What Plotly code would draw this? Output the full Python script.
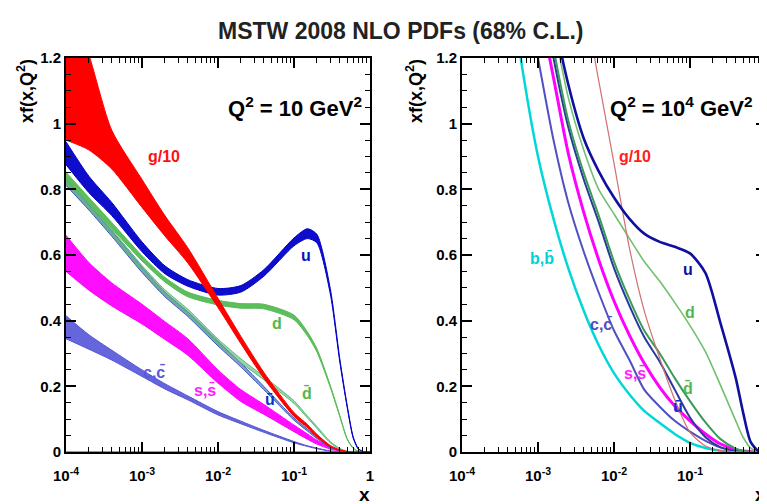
import math
import plotly.graph_objects as go

# ---------------- data ----------------
X_LEFT = [1e-4, 2e-4, 4e-4, 1e-3, 2e-3, 4e-3, 1e-2, 2e-2, 4e-2, 0.1,
          0.15, 0.2, 0.3, 0.4, 0.5, 0.6, 0.7, 0.8, 0.9, 1.0]

# Q^2 = 10 GeV^2 : lower / upper edges of the 68% C.L. bands
g10_lo_L = [0.95, 0.92, 0.862, 0.745, 0.658, 0.576, 0.44, 0.33, 0.225, 0.108,
            0.074, 0.046, 0.016, 0.005, 0.001, 0, 0, 0, 0, 0]
g10_hi_L = [1.40, 1.21, 0.98, 0.83, 0.72, 0.622, 0.468, 0.352, 0.243, 0.12,
            0.084, 0.054, 0.02, 0.007, 0.002, 0, 0, 0, 0, 0]
u_lo_L = [0.875, 0.79, 0.72, 0.61, 0.543, 0.505, 0.478, 0.487, 0.535, 0.628,
          0.65, 0.637, 0.482, 0.275, 0.137, 0.043, 0.009, 0.002, 0, 0]
u_hi_L = [0.945, 0.84, 0.76, 0.64, 0.567, 0.525, 0.498, 0.507, 0.555, 0.652,
          0.68, 0.663, 0.498, 0.285, 0.143, 0.047, 0.011, 0.002, 0, 0]
d_lo_L = [0.828, 0.755, 0.681, 0.582, 0.518, 0.473, 0.448, 0.438, 0.436, 0.403,
          0.354, 0.305, 0.197, 0.108, 0.039, 0.011, 0.002, 0, 0, 0]
d_hi_L = [0.852, 0.775, 0.699, 0.598, 0.532, 0.487, 0.462, 0.452, 0.450, 0.417,
          0.366, 0.315, 0.203, 0.112, 0.041, 0.013, 0.002, 0, 0, 0]
ubar_lo_L = [0.812, 0.737, 0.657, 0.547, 0.473, 0.413, 0.323, 0.259, 0.190, 0.097,
             0.064, 0.041, 0.014, 0.004, 0.001, 0, 0, 0, 0, 0]
ubar_hi_L = [0.828, 0.753, 0.673, 0.563, 0.487, 0.427, 0.337, 0.271, 0.200, 0.103,
             0.070, 0.045, 0.016, 0.004, 0.001, 0, 0, 0, 0, 0]
dbar_lo_L = [0.817, 0.742, 0.662, 0.552, 0.480, 0.421, 0.330, 0.272, 0.220, 0.148,
             0.104, 0.072, 0.028, 0.009, 0.002, 0, 0, 0, 0, 0]
dbar_hi_L = [0.833, 0.758, 0.678, 0.568, 0.494, 0.435, 0.344, 0.284, 0.230, 0.156,
             0.110, 0.078, 0.032, 0.011, 0.002, 0, 0, 0, 0, 0]
s_lo_L = [0.55, 0.493, 0.445, 0.39, 0.343, 0.295, 0.21, 0.154, 0.115, 0.062,
          0.039, 0.024, 0.009, 0.003, 0.001, 0, 0, 0, 0, 0]
s_hi_L = [0.66, 0.577, 0.515, 0.45, 0.397, 0.345, 0.25, 0.19, 0.145, 0.082,
          0.055, 0.036, 0.015, 0.005, 0.001, 0, 0, 0, 0, 0]
c_lo_L = [0.345, 0.313, 0.28, 0.23, 0.192, 0.159, 0.113, 0.086, 0.060, 0.028,
          0.017, 0.010, 0.003, 0.001, 0, 0, 0, 0, 0, 0]
c_hi_L = [0.415, 0.357, 0.31, 0.25, 0.208, 0.171, 0.123, 0.094, 0.066, 0.032,
          0.019, 0.012, 0.003, 0.001, 0, 0, 0, 0, 0, 0]
b_L = [0] * 20

X_RIGHT = [4e-4, 6.3e-4, 1e-3, 1.6e-3, 2.5e-3, 4e-3, 6.3e-3, 1e-2, 1.6e-2, 2.5e-2,
           4e-2, 6.3e-2, 0.1, 0.16, 0.25, 0.4, 0.5, 0.63, 0.8, 1.0]
# Q^2 = 10^4 GeV^2 : central curves
g10_R = [2.9, 2.5, 2.15, 1.85, 1.6, 1.38, 1.13, 0.88, 0.62, 0.43,
         0.285, 0.16, 0.06, 0.018, 0.004, 0.001, 0, 0, 0, 0]
u_R = [2.4, 1.95, 1.6, 1.33, 1.12, 0.955, 0.855, 0.775, 0.71, 0.665,
       0.64, 0.625, 0.605, 0.545, 0.395, 0.225, 0.12, 0.03, 0.003, 0]
d_R = [2.3, 1.9, 1.55, 1.3, 1.08, 0.92, 0.80, 0.725, 0.65, 0.58,
       0.52, 0.455, 0.385, 0.305, 0.205, 0.095, 0.045, 0.012, 0.001, 0]
ubar_R = [2.15, 1.78, 1.47, 1.2, 0.99, 0.83, 0.70, 0.56, 0.445, 0.35,
          0.275, 0.19, 0.105, 0.045, 0.015, 0.003, 0.001, 0, 0, 0]
dbar_R = [2.2, 1.82, 1.5, 1.23, 1.01, 0.85, 0.72, 0.58, 0.465, 0.37,
          0.30, 0.225, 0.155, 0.09, 0.04, 0.01, 0.003, 0.001, 0, 0]
s_R = [2.0, 1.65, 1.38, 1.14, 0.91, 0.73, 0.585, 0.46, 0.355, 0.27,
       0.197, 0.14, 0.095, 0.055, 0.025, 0.007, 0.003, 0.001, 0, 0]
c_R = [1.75, 1.45, 1.2, 0.95, 0.76, 0.61, 0.485, 0.37, 0.28, 0.19,
       0.138, 0.095, 0.062, 0.034, 0.014, 0.004, 0.001, 0, 0, 0]
b_R = [1.48, 1.16, 0.90, 0.71, 0.56, 0.43, 0.325, 0.24, 0.175, 0.125,
       0.088, 0.055, 0.028, 0.012, 0.004, 0.001, 0, 0, 0, 0]

X_TICKS = [1e-4, 1e-3, 1e-2, 1e-1, 1]
X_TICKTEXT = ["<b>10<sup>-4</sup></b>", "<b>10<sup>-3</sup></b>", "<b>10<sup>-2</sup></b>",
              "<b>10<sup>-1</sup></b>", "<b>1</b>"]

TITLE = "MSTW 2008 NLO PDFs (68% C.L.)"
Q2_LEFT = "Q<sup>2</sup> = 10 GeV<sup>2</sup>"
Q2_RIGHT = "Q<sup>2</sup> = 10<sup>4</sup> GeV<sup>2</sup>"

# curve labels: (text, x, y, color)
LABELS_L = [("g/10", 1.95e-3, 0.90, "#ff1010"), ("u", 0.145, 0.60, "#1010c0"),
            ("d", 0.060, 0.39, "#50b850"), ("ū", 0.048, 0.16, "#1030c8"),
            ("d\u0304", 0.148, 0.18, "#50b850"), ("s,s\u0304", 6.8e-3, 0.19, "#ff20ff"),
            ("c,c\u0304", 1.45e-3, 0.245, "#5a5ad8")]
LABELS_R = [("g/10", 0.019, 0.90, "#ff2020"), ("u", 0.093, 0.555, "#1010a0"),
            ("d", 0.10, 0.425, "#50b850"), ("ū", 0.069, 0.14, "#1030c8"),
            ("d\u0304", 0.093, 0.195, "#50b850"), ("s,s\u0304", 0.019, 0.24, "#ff20ff"),
            ("c,c\u0304", 6.8e-3, 0.39, "#5050c8"), ("b,b\u0304", 1.12e-3, 0.59, "#00d0d0")]

FONT = "Liberation Sans, Arial, sans-serif"

fig = go.Figure()


def band(xs, lo, hi, color, fillcolor, xa, ya, lw=1.0):
    fig.add_trace(go.Scatter(x=xs, y=lo, mode="lines", xaxis=xa, yaxis=ya,
                             line=dict(color=color, width=lw, shape="spline", smoothing=0.7),
                             hoverinfo="skip", showlegend=False))
    fig.add_trace(go.Scatter(x=xs, y=hi, mode="lines", xaxis=xa, yaxis=ya, fill="tonexty",
                             fillcolor=fillcolor,
                             line=dict(color=color, width=lw, shape="spline", smoothing=0.7),
                             hoverinfo="skip", showlegend=False))


def curve(xs, ys, color, xa, ya, lw):
    fig.add_trace(go.Scatter(x=xs, y=ys, mode="lines", xaxis=xa, yaxis=ya,
                             line=dict(color=color, width=lw, shape="spline", smoothing=0.7),
                             hoverinfo="skip", showlegend=False))


# left panel
curve(X_LEFT, b_L, "#00dddd", "x", "y", 2)
band(X_LEFT, c_lo_L, c_hi_L, "#5555d8", "rgba(85,85,216,0.9)", "x", "y")
band(X_LEFT, s_lo_L, s_hi_L, "#ff00ff", "rgba(255,0,255,0.95)", "x", "y")
band(X_LEFT, ubar_lo_L, ubar_hi_L, "#3a5ab8", "rgba(58,90,184,0.6)", "x", "y")
band(X_LEFT, dbar_lo_L, dbar_hi_L, "#5ab878", "rgba(90,184,120,0.6)", "x", "y")
band(X_LEFT, d_lo_L, d_hi_L, "#55bb55", "rgba(85,187,85,0.95)", "x", "y")
band(X_LEFT, u_lo_L, u_hi_L, "#0000c8", "rgba(0,0,200,0.95)", "x", "y")
band(X_LEFT, g10_lo_L, g10_hi_L, "#ff0000", "rgba(255,0,0,1)", "x", "y")

# right panel
curve(X_RIGHT, b_R, "#00d8d8", "x2", "y2", 2.5)
curve(X_RIGHT, c_R, "#5050c0", "x2", "y2", 2)
curve(X_RIGHT, s_R, "#ff00ff", "x2", "y2", 3)
curve(X_RIGHT, ubar_R, "#2a3a9a", "x2", "y2", 2)
curve(X_RIGHT, dbar_R, "#3a9a5a", "x2", "y2", 2)
curve(X_RIGHT, d_R, "#70c070", "x2", "y2", 1.6)
curve(X_RIGHT, g10_R, "#d07070", "x2", "y2", 1.2)
curve(X_RIGHT, u_R, "#1010a0", "x2", "y2", 2.6)

W, H = 767, 504
OFF = 8  # page body margin


def PX(xp):
    return (xp - OFF) / W


def PY(yp):
    return 1 - (yp - OFF) / H


yd = [PY(452), PY(58)]
minor_x = [k * 10 ** e for e in range(-4, 0) for k in range(2, 10)]

xcommon = dict(type="log", range=[-4, 0], tickmode="array", tickvals=X_TICKS,
               ticktext=X_TICKTEXT, ticks="inside", ticklen=10, tickwidth=1.5,
               tickcolor="black", mirror="allticks", showline=True, linecolor="black",
               linewidth=2, showgrid=False, zeroline=False, automargin=False,
               tickfont=dict(family=FONT, size=15, color="black"),
               ticklabelstandoff=9,
               minor=dict(tickmode="array", tickvals=minor_x, ticks="inside", ticklen=5,
                          tickwidth=1.2, tickcolor="black", showgrid=False))
ycommon = dict(range=[0, 1.2], tick0=0, dtick=0.2, ticks="inside", ticklen=10,
               tickwidth=1.5, tickcolor="black", mirror="allticks", showline=True,
               linecolor="black", linewidth=2, showgrid=False, zeroline=False,
               automargin=False,
               tickfont=dict(family=FONT, size=15, color="black", weight="bold"),
               ticklabelstandoff=0,
               minor=dict(dtick=0.05, ticks="inside", ticklen=5, tickwidth=1.2,
                          tickcolor="black", showgrid=False))

fig.update_layout(
    width=W, height=H, margin=dict(l=0, r=0, t=0, b=0, autoexpand=False),
    paper_bgcolor="white", plot_bgcolor="white", showlegend=False,
    xaxis=dict(domain=[PX(66), PX(370)], anchor="y", **xcommon),
    yaxis=dict(domain=yd, anchor="x", **ycommon),
    xaxis2=dict(domain=[PX(462), PX(766)], anchor="y2", **xcommon),
    yaxis2=dict(domain=yd, anchor="x2", **ycommon),
)

ann = []
ann.append(dict(text="<b>" + TITLE + "</b>", x=PX(401), y=PY(31), xref="paper", yref="paper",
                xanchor="center", yanchor="middle",
                showarrow=False, font=dict(family=FONT, size=23, color="#222222")))
for xc in (25, 414):
    ann.append(dict(text="<b>xf(x,Q<sup>2</sup>)</b>", x=PX(xc), y=PY(57), xref="paper",
                    yref="paper", textangle=-90, xanchor="center", yanchor="top",
                    showarrow=False, font=dict(family=FONT, size=18, color="black")))
for xc in (364, 760):
    ann.append(dict(text="<b>x</b>", x=PX(xc), y=PY(494), xref="paper", yref="paper",
                    xanchor="center", yanchor="middle",
                    showarrow=False, font=dict(family=FONT, size=19, color="black")))
ann.append(dict(text="<b>" + Q2_LEFT + "</b>", x=PX(364), y=PY(107), xref="paper",
                yref="paper", xanchor="right", yanchor="middle", showarrow=False,
                font=dict(family=FONT, size=22, color="black")))
ann.append(dict(text="<b>" + Q2_RIGHT + "</b>", x=PX(755), y=PY(107), xref="paper",
                yref="paper", xanchor="right", yanchor="middle", showarrow=False,
                font=dict(family=FONT, size=22, color="black")))
for (t, xv, yv, col) in LABELS_L:
    ann.append(dict(text="<b>" + t + "</b>", x=math.log10(xv), y=yv, xref="x", yref="y",
                    xanchor="center", yanchor="middle",
                    showarrow=False, font=dict(family=FONT, size=16, color=col)))
for (t, xv, yv, col) in LABELS_R:
    ann.append(dict(text="<b>" + t + "</b>", x=math.log10(xv), y=yv, xref="x2", yref="y2",
                    xanchor="center", yanchor="middle",
                    showarrow=False, font=dict(family=FONT, size=16, color=col)))
fig.update_layout(annotations=ann)

fig.write_html("out.html")
